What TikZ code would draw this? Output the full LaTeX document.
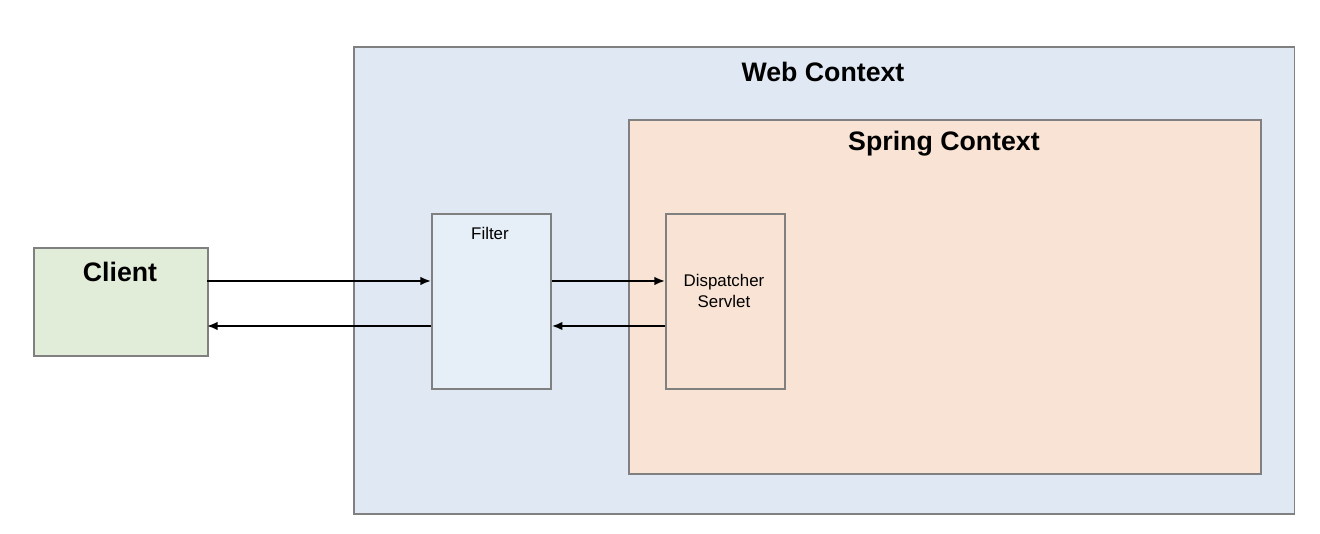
\documentclass[tikz,border=0pt]{standalone}
\usepackage{fontspec}
\setmainfont{Liberation Sans}
\usetikzlibrary{positioning,arrows.meta}
\definecolor{webBlue}{HTML}{DFE8F3}
\definecolor{springOrange}{HTML}{F8E3D5}
\definecolor{clientGreen}{HTML}{E2EDD9}
\definecolor{filterBlue}{HTML}{E6EEF8}
\definecolor{edgeGray}{HTML}{808080}
\tikzstyle{bS}=[draw=edgeGray,line width=0.5pt,inner sep=0pt,anchor=south west]
\tikzstyle{tS}=[font=\fontsize{7.6}{8}\selectfont\bfseries]
\tikzstyle{sS}=[font=\fontsize{4.8}{5.8}\selectfont,align=center]
\tikzstyle{aS}=[line width=0.5pt,-{Latex[length=3pt,width=2.4pt]}]

\begin{document}
\begin{tikzpicture}[x=0.01cm,y=0.01cm]
                \useasboundingbox (0,0) rectangle (1320,534);
                \draw (353,19) node[bS,fill=webBlue,minimum width=9.4cm,minimum height=4.67cm] (web) {};
                \draw (628,59) node[bS,fill=springOrange,minimum width=6.32cm,minimum height=3.54cm] (spring) {};
                \draw (33,177) node[bS,fill=clientGreen,minimum width=1.74cm,minimum height=1.08cm] (client) {};
                \draw (431,144) node[bS,fill=filterBlue,minimum width=1.19cm,minimum height=1.75cm] (filter) {};
                \draw (665,144) node[bS,fill=springOrange,minimum width=1.19cm,minimum height=1.75cm] (disp) {};
                \node[tS] at (823,462) {Web Context};
                \node[tS] at (944,390) {Spring Context};
                \node[tS] at (120,262) {Client};
                \node[sS] at (490,301) {Filter};
                \node[sS] at (724,243) {Dispatcher\\Servlet};
                \coordinate (c1) at (207,253);
                \coordinate (c2) at (207,208);
                \draw[aS] (c1) -- (c1 -| filter.west);
                \draw[aS] (c2 -| filter.west) -- (c2);
                \draw[aS] (c1 -| filter.east) -- (c1 -| disp.west);
                \draw[aS] (c2 -| disp.west) -- (c2 -| filter.east);
\end{tikzpicture}
\end{document}
